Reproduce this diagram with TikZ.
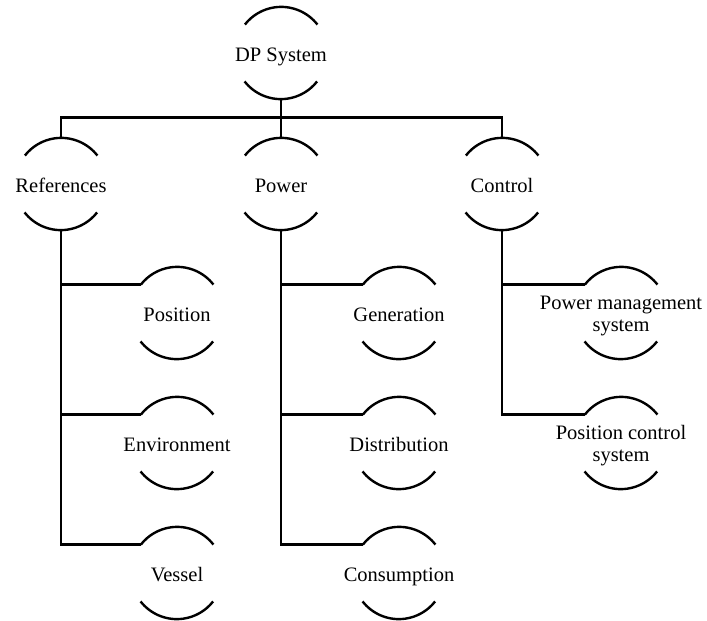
\documentclass[tikz,border=0pt]{standalone}
\usepackage{fontspec}
\setmainfont{Liberation Serif}
\begin{document}
\begin{tikzpicture}[x=1pt,y=1pt,
  % a unit: a circle of which only the top and bottom arcs are drawn
  unit/.style={circle,minimum size=92pt,inner sep=0pt,
    label={[caption,text height=17pt,text depth=1pt]center:#1}},
  % the same, for a caption set on two lines
  unittwo/.style={circle,minimum size=92pt,inner sep=0pt,
    label={[caption,yshift=-2.5pt]center:#1}},
  caption/.style={font=\fontsize{20.5}{22}\selectfont,align=center,inner sep=0pt},
  rim/.style={line width=2.4pt},
  link/.style={line width=2.8pt}]
\useasboundingbox (0,0) rectangle (707,-621);

% top level
\node[unit={DP System}] (dp) at (281,-53) {};

% second level
\node[unit={References}] (ref) at (61,-184) {};
\node[unit={Power}] (pow) at (281,-184) {};
\node[unit={Control}] (ctl) at (502,-184) {};

% references branch
\node[unit={Position}] (pos) at (177,-313) {};
\node[unit={Environment}] (env) at (177,-443) {};
\node[unit={Vessel}] (ves) at (177,-573) {};

% power branch
\node[unit={Generation}] (gen) at (399,-313) {};
\node[unit={Distribution}] (dis) at (399,-443) {};
\node[unit={Consumption}] (con) at (399,-573) {};

% control branch
\node[unittwo={Power management\\system}] (pms) at (621,-313) {};
\node[unittwo={Position control\\system}] (pcs) at (621,-443) {};

% top and bottom arcs of every unit
\foreach \n in {dp,ref,pow,ctl,pos,env,ves,gen,dis,con,pms,pcs}{
  \draw[rim] (\n.38) arc[start angle=38,end angle=142,radius=46pt];
  \draw[rim] (\n.-142) arc[start angle=-142,end angle=-38,radius=46pt];
}

% connectors
\draw[link] (dp.south) -- (pow.north);
\draw[link] (ref.north) -- ++(0,20) -| (ctl.north);

\draw[link] (ref.south) |- (pos.142);
\draw[link] (ref.south) |- (env.142);
\draw[link] (ref.south) |- (ves.142);

\draw[link] (pow.south) |- (gen.142);
\draw[link] (pow.south) |- (dis.142);
\draw[link] (pow.south) |- (con.142);

\draw[link] (ctl.south) |- (pms.142);
\draw[link] (ctl.south) |- (pcs.142);
\end{tikzpicture}
\end{document}
